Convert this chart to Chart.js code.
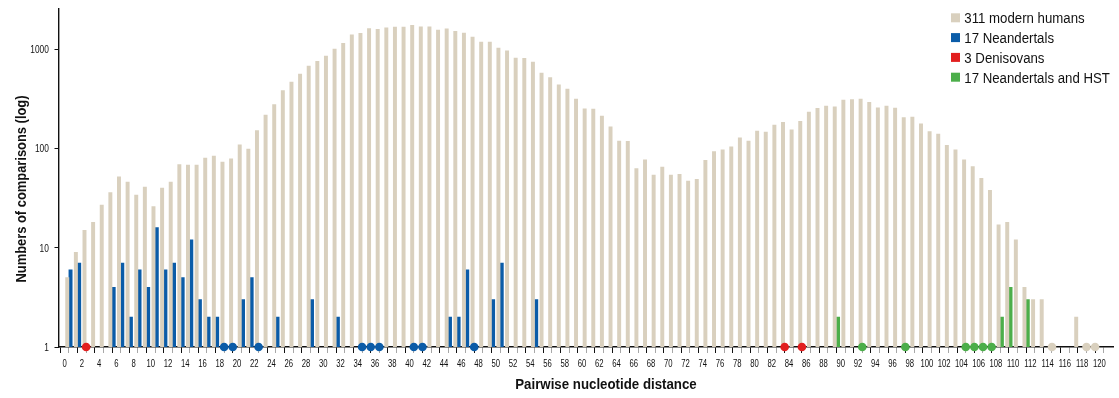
<!DOCTYPE html>
<html>
<head>
<meta charset="utf-8">
<script src="https://cdn.jsdelivr.net/npm/chart.js@4.4.1/dist/chart.umd.min.js"></script>
<style>
  html, body { margin: 0; padding: 0; background: #ffffff; }
  #wrap { width: 1119px; height: 398px; }
</style>
</head>
<body>
<div id="wrap"><canvas id="chart" width="1119" height="398"></canvas></div>
<script>
// Number of pairwise comparisons per nucleotide distance (array index = distance)
const humanCounts = [
  5, 9, 15, 18, 27, 36, 52, 46, 34, 41,
  26, 40, 46, 69, 68, 68, 80, 84, 73, 79,
  109, 99, 152, 218, 277, 383, 468, 563, 679, 757,
  856, 1007, 1149, 1404, 1448, 1615, 1589, 1652, 1678, 1678,
  1743, 1690, 1690, 1564, 1614, 1517, 1459, 1330, 1185, 1185,
  1031, 968, 817, 811, 745, 577, 518, 440, 398, 316,
  252, 250, 213, 166, 119, 118, 63, 77, 54, 65,
  54, 55, 47, 49, 76, 93, 97, 104, 128, 119,
  150, 147, 172, 184, 154, 188, 233, 254, 268, 264,
  308, 311, 316, 292, 258, 268, 256, 205, 208, 177,
  148, 140, 108, 97, 77, 66, 50, 38, 17, 18,
  12, 4, 3, 3, 1, 0, 0, 2, 1, 1,
  0
];

const neandertalDistances = [0, 1, 5, 6, 7, 8, 9, 10, 11, 12, 13, 14, 15, 16, 17, 18, 19, 20, 21, 22,
                             24, 28, 31, 34, 35, 36, 40, 41, 44, 45, 46, 47, 49, 50, 54];
const neandertalCounts    = [6, 7, 4, 7, 2, 6, 4, 16, 6, 7, 5, 12, 3, 2, 2, 1, 1, 3, 5, 1,
                             2, 3, 2, 1, 1, 1, 1, 1, 2, 2, 6, 1, 3, 7, 3];

const denisovanDistances = [2, 83, 85];
const denisovanCounts    = [1, 1, 1];

const hstDistances = [89, 92, 97, 104, 105, 106, 107, 108, 109, 111];
const hstCounts    = [2, 1, 1, 1, 1, 1, 1, 2, 4, 3];

const seriesLabels = ['311 modern humans', '17 Neandertals', '3 Denisovans', '17 Neandertals and HST'];
const seriesColors = ['#d9d0be', '#0b5ca8', '#e21f1f', '#4cae4a'];

const distanceTicks = humanCounts.map((_, d) => d);   // 0 … 120, labelled every second one
const countTicks = [1, 10, 100, 1000];

const xTitle = 'Pairwise nucleotide distance';
const yTitle = 'Numbers of comparisons (log)';

const FONT = "'Liberation Sans', Arial, sans-serif";
const INK = '#111111';

// ---- build datasets ----
const pairs = (dists, counts) => dists.map((d, i) => [d, counts[i]]);
const groups = [
  { pairs: humanCounts.map((v, d) => [d, v]).filter(p => p[1] > 0), stack: 'modern' },
  { pairs: pairs(neandertalDistances, neandertalCounts), stack: 'archaic' },
  { pairs: pairs(denisovanDistances, denisovanCounts), stack: 'archaic' },
  { pairs: pairs(hstDistances, hstCounts), stack: 'archaic' }
];

const MID = 0.5;  // the bars for distance d sit in the interval [d, d+1]
const barSets = groups.map((g, i) => ({
  type: 'bar',
  label: seriesLabels[i],
  backgroundColor: seriesColors[i],
  borderWidth: 0,
  stack: g.stack,
  barThickness: 3.3,
  order: 2,
  data: g.pairs.filter(p => p[1] > 1).map(([d, v]) => ({ x: d + MID, y: v }))
}));
// single comparisons sit on the baseline of the log axis, so they are shown as dots
const dotSets = groups.map((g, i) => ({
  type: 'line',
  label: seriesLabels[i] + ' ×1',
  showLine: false,
  clip: false,
  order: 1,
  pointRadius: 4.3,
  pointBorderWidth: 0,
  pointBackgroundColor: seriesColors[i],
  data: g.pairs.filter(p => p[1] === 1).map(([d]) => ({ x: d + MID, y: 1 }))
}));

// condensed-looking text: regular face squeezed horizontally
function narrowText(ctx, text, x, y, sx, align) {
  ctx.save();
  ctx.translate(x, y);
  ctx.scale(sx, 1);
  ctx.textAlign = align;
  ctx.fillText(text, 0, 0);
  ctx.restore();
}

// tick labels placed from the scales' own tick positions
const narrowTickLabels = {
  id: 'narrowTickLabels',
  afterDraw(chart) {
    const { ctx, chartArea: a } = chart;
    const xs = chart.scales.x, ys = chart.scales.y;
    ctx.save();
    ctx.fillStyle = INK;
    ctx.font = `11px ${FONT}`;
    ctx.textBaseline = 'alphabetic';
    xs.ticks.forEach(t => {
      if (t.value % 2 !== 0) return;
      narrowText(ctx, String(t.value), xs.getPixelForValue(t.value), a.bottom + 19.9, 0.7, 'center');
    });
    ys.ticks.forEach(t => {
      narrowText(ctx, String(t.value), a.left - 9.6, ys.getPixelForValue(t.value) + 3.9, 0.76, 'right');
    });
    ctx.restore();
  }
};

// legend in the upper right corner of the plot
const cornerLegend = {
  id: 'cornerLegend',
  afterDraw(chart) {
    const { ctx, chartArea: a } = chart;
    ctx.save();
    ctx.font = `14px ${FONT}`;
    ctx.textBaseline = 'alphabetic';
    barSets.forEach((ds, i) => {
      const bx = a.right - 162, by = a.top + 4.3 + i * 19.8;
      ctx.fillStyle = ds.backgroundColor;
      ctx.fillRect(bx, by, 9, 9);
      ctx.fillStyle = INK;
      narrowText(ctx, ds.label, bx + 13.3, by + 10, 0.945, 'left');
    });
    ctx.restore();
  }
};

// bold axis titles
const axisTitles = {
  id: 'axisTitles',
  afterDraw(chart) {
    const { ctx, chartArea: a } = chart;
    ctx.save();
    ctx.fillStyle = '#111';
    ctx.font = `bold 15px ${FONT}`;
    ctx.textBaseline = 'alphabetic';
    narrowText(ctx, xTitle, a.left + 547.5, a.bottom + 42.3, 0.885, 'center');
    ctx.translate(26, a.top + 180);
    ctx.rotate(-Math.PI / 2);
    narrowText(ctx, yTitle, 0, 0, 0.86, 'center');
    ctx.restore();
  }
};

new Chart(document.getElementById('chart'), {
  type: 'bar',
  data: { datasets: [...barSets, ...dotSets] },
  options: {
    responsive: false,
    animation: false,
    events: [],
    layout: { padding: { top: 9, right: 6, left: 0, bottom: 0 } },
    plugins: { legend: { display: false }, tooltip: { enabled: false } },
    scales: {
      x: {
        type: 'linear',
        min: -0.2,
        max: 121.07,
        afterBuildTicks: s => { s.ticks = distanceTicks.map(value => ({ value })); },
        afterFit: s => { s.height = 51; },
        ticks: { display: false, autoSkip: false },
        grid: {
          drawOnChartArea: false,
          drawTicks: true,
          tickLength: 6,
          lineWidth: 1,
          color: c => (c.tick && c.tick.value % 2 === 0 ? '#111' : '#a8a8a8')
        },
        border: { display: true, color: '#111', width: 1.4 }
      },
      y: {
        type: 'logarithmic',
        stacked: false,
        min: 1,
        max: 2550,
        afterBuildTicks: s => { s.ticks = countTicks.map(value => ({ value })); },
        afterFit: s => { s.width = 58.5; },
        ticks: { display: false },
        grid: {
          drawOnChartArea: false,
          drawTicks: true,
          tickLength: 4,
          lineWidth: 1,
          color: '#111'
        },
        border: { display: true, color: '#111', width: 1.4 }
      }
    }
  },
  plugins: [narrowTickLabels, cornerLegend, axisTitles]
});
</script>
</body>
</html>
